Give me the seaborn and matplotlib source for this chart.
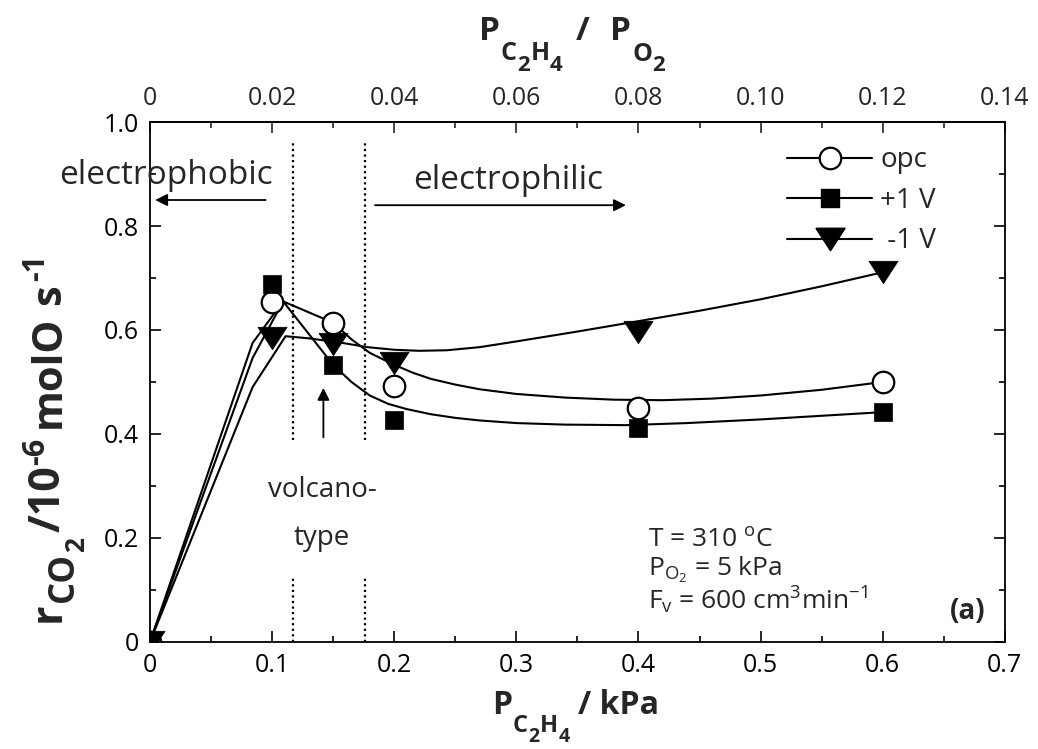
import numpy as np
import pandas as pd
import matplotlib
matplotlib.use("Agg")
import matplotlib.pyplot as plt
from matplotlib.lines import Line2D
from matplotlib.ticker import MultipleLocator, FuncFormatter
from matplotlib.transforms import IdentityTransform
import seaborn as sns

# Measured rates (x in kPa)
p_c2h4 = [0.0, 0.1, 0.15, 0.2, 0.4, 0.6]
rate_opc = [0.0, 0.654, 0.614, 0.492, 0.450, 0.500]
rate_pos = [0.0, 0.688, 0.533, 0.427, 0.412, 0.442]
rate_neg = [0.0, 0.584, 0.574, 0.536, 0.597, 0.711]

# Trend curves drawn through the data
trend_opc_x = [0.0, 0.084, 0.109, 0.15, 0.165, 0.18, 0.2, 0.215, 0.23, 0.25, 0.27, 0.3, 0.34,
               0.38, 0.42, 0.46, 0.5, 0.55, 0.6]
trend_opc_y = [0.0, 0.575, 0.655, 0.614, 0.582, 0.556, 0.533, 0.518, 0.506, 0.495, 0.486, 0.477,
               0.470, 0.466, 0.465, 0.468, 0.474, 0.485, 0.500]
trend_pos_x = [0.0, 0.084, 0.109, 0.15, 0.165, 0.18, 0.195, 0.21, 0.23, 0.25, 0.27, 0.3, 0.34,
               0.39, 0.44, 0.5, 0.55, 0.6]
trend_pos_y = [0.0, 0.546, 0.655, 0.533, 0.500, 0.474, 0.458, 0.448, 0.438, 0.431, 0.426, 0.421,
               0.418, 0.417, 0.421, 0.428, 0.435, 0.442]
trend_neg_x = [0.0, 0.084, 0.111, 0.13, 0.158, 0.178, 0.2, 0.22, 0.243, 0.27, 0.3, 0.35, 0.4,
               0.45, 0.5, 0.55, 0.6]
trend_neg_y = [0.0, 0.490, 0.588, 0.584, 0.575, 0.567, 0.562, 0.560, 0.561, 0.567, 0.578, 0.597,
               0.617, 0.637, 0.659, 0.684, 0.711]

series_names = ["opc", "+1 V", " -1 V"]
x_ticks = [0, 0.1, 0.2, 0.3, 0.4, 0.5, 0.6, 0.7]
y_ticks = [0, 0.2, 0.4, 0.6, 0.8, 1.0]
top_ticks = [0, 0.02, 0.04, 0.06, 0.08, 0.10, 0.12, 0.14]
p_o2 = 5.0
regime_bounds = [0.117, 0.176]

sns.set_theme(style="ticks")
plt.rcParams["font.family"] = ["Open Sans", "DejaVu Sans"]
plt.rcParams["mathtext.fontset"] = "custom"
plt.rcParams["mathtext.rm"] = "Open Sans"
plt.rcParams["mathtext.it"] = "Open Sans:italic"
plt.rcParams["mathtext.bf"] = "Open Sans:bold"
plt.rcParams["mathtext.sf"] = "Open Sans"

W, H = 1038, 749
fig = plt.figure(figsize=(W / 100, H / 100), dpi=100)
ax = fig.add_axes([0.1445, 0.1429, 0.8235, 0.6942])
renderer = fig.canvas.get_renderer()


def rich_label(x_px, y_px, pieces, rotation=0):
    """Lay out text pieces one after another along a baseline.

    Positions are in pixels from the top-left corner. Each piece is
    (text, size, drop_px, gap_px); drop_px > 0 lowers the piece (subscript).
    """
    pos = 0.0
    for s, size, drop, gap in pieces:
        if rotation == 0:
            tx, ty = x_px + pos, H - (y_px + drop)
        else:
            tx, ty = x_px + drop, H - y_px + pos
        t = fig.text(tx, ty, s, fontsize=size, fontweight="bold", ha="left", va="baseline",
                     rotation=rotation, rotation_mode="anchor", transform=IdentityTransform())
        bb = t.get_window_extent(renderer)
        pos += (bb.width if rotation == 0 else bb.height) + gap


# wide triangle pointing down, centred on its bounding box
tri = [(-1.0, 0.77), (1.0, 0.77), (0.0, -0.77), (-1.0, 0.77)]

lw = 1.5
for tx, ty in [(trend_opc_x, trend_opc_y), (trend_pos_x, trend_pos_y), (trend_neg_x, trend_neg_y)]:
    d = pd.DataFrame({"x": tx, "y": ty})
    sns.lineplot(data=d, x="x", y="y", sort=False, estimator=None, color="black",
                 linewidth=lw, ax=ax, zorder=2)

df = pd.DataFrame({"p": p_c2h4, "opc": rate_opc, "pos": rate_pos, "neg": rate_neg})
sns.scatterplot(data=df, x="p", y="opc", marker="o", s=15.5**2, facecolor="white",
                edgecolor="black", linewidth=1.6, ax=ax, zorder=4)
sns.scatterplot(data=df, x="p", y="pos", marker="s", s=13.5**2, color="black",
                edgecolor="black", linewidth=0.5, ax=ax, zorder=4)
sns.scatterplot(data=df, x="p", y="neg", marker=tri, s=21**2, color="black",
                edgecolor="black", linewidth=0.5, ax=ax, zorder=4)

# regime boundaries
for xb in regime_bounds:
    ax.plot([xb, xb], [0.388, 0.962], color="black", linestyle=(0, (1, 1.5)), linewidth=1.6, zorder=1)
    ax.plot([xb, xb], [0.0, 0.123], color="black", linestyle=(0, (1, 1.5)), linewidth=1.6, zorder=1)

ax.set_xlim(0, 0.7)
ax.set_ylim(0, 1.0)
ax.set_xlabel("")
ax.set_ylabel("")


def fmt(v, pos):
    if abs(v) < 1e-9:
        return "0"
    return "%.1f" % v


ax.set_xticks(x_ticks)
ax.set_yticks(y_ticks)
ax.xaxis.set_major_formatter(FuncFormatter(fmt))
ax.yaxis.set_major_formatter(FuncFormatter(fmt))
ax.xaxis.set_minor_locator(MultipleLocator(0.05))
ax.yaxis.set_minor_locator(MultipleLocator(0.1))
ax.tick_params(which="both", direction="in", top=False, right=True, width=1.2, colors="black",
               labelsize=18)
ax.tick_params(which="major", length=8)
ax.tick_params(which="minor", length=4)
ax.tick_params(axis="x", pad=8)
ax.tick_params(axis="y", pad=8)
for s in ax.spines.values():
    s.set_linewidth(1.3)
    s.set_color("black")

top = ax.secondary_xaxis("top", functions=(lambda x: x / p_o2, lambda x: x * p_o2))
top.set_xticks(top_ticks)
top.xaxis.set_major_formatter(FuncFormatter(lambda v, p: "0" if abs(v) < 1e-9 else "%.2f" % v))
top.xaxis.set_minor_locator(MultipleLocator(0.01))
top.tick_params(which="both", direction="in", width=1.2, labelsize=18, pad=8)
top.tick_params(which="major", length=8)
top.tick_params(which="minor", length=4)
top.spines["top"].set_linewidth(1.3)

# axis titles with lowered chemical subscripts
rich_label(492, 714, [("P", 23, 0, 1), ("C", 17, 18, 0), ("2", 14, 28, 1), ("H", 17, 18, 0),
                      ("4", 14, 28, 9), ("/ kPa", 23, 0, 0)])
rich_label(479, 40, [("P", 24, 0, 1), ("C", 18, 20, 0), ("2", 16, 31, 1), ("H", 18, 20, 0),
                     ("4", 16, 31, 13), ("/", 24, 0, 21), ("P", 24, 0, 1), ("O", 18, 21, 0),
                     ("2", 16, 31, 0)])
rich_label(60, 622, [("r", 31, 0, 1), ("CO", 25, 13, 0), ("2", 19, 24, 5), ("/10", 31, 0, 1),
                     ("-6", 22, -16, 9), ("molO", 30, 0, 11), ("s", 30, 0, 3), ("-1", 22, -16, 0)],
           rotation=90)

# annotations
ax.text(0.013, 0.898, "electrophobic", fontsize=24, ha="center", va="center")
ax.annotate("", xy=(0.002, 0.85), xytext=(0.097, 0.85),
            arrowprops=dict(arrowstyle="-|>", color="black", lw=1.3, mutation_scale=18))
ax.text(0.293, 0.888, "electrophilic", fontsize=24, ha="center", va="center")
ax.annotate("", xy=(0.392, 0.84), xytext=(0.182, 0.84),
            arrowprops=dict(arrowstyle="-|>", color="black", lw=1.3, mutation_scale=18))
ax.annotate("", xy=(0.142, 0.494), xytext=(0.142, 0.388),
            arrowprops=dict(arrowstyle="-|>", color="black", lw=1.3, mutation_scale=18))
ax.text(0.141, 0.246, "volcano-\ntype", fontsize=20, ha="center", va="center", linespacing=1.95)

ax.text(0.408, 0.195, r"T = 310 $^{\mathrm{o}}$C", fontsize=19, ha="left", va="center")
ax.text(0.408, 0.138, r"P$_{\mathrm{O_2}}$ = 5 kPa", fontsize=19, ha="left", va="center")
ax.text(0.408, 0.080, r"F$_{\mathrm{v}}$ = 600 cm$^{\mathrm{3}}$min$^{\mathrm{-1}}$", fontsize=19,
        ha="left", va="center")
ax.text(0.67, 0.058, "(a)", fontsize=20, fontweight="bold", ha="center", va="center")

handles = [
    Line2D([], [], color="black", lw=lw, marker="o", markersize=15.5, markerfacecolor="white",
           markeredgecolor="black", markeredgewidth=1.6),
    Line2D([], [], color="black", lw=lw, marker="s", markersize=13.5, markerfacecolor="black"),
    Line2D([], [], color="black", lw=lw, marker=tri, markersize=21, markerfacecolor="black"),
]
ax.legend(handles, series_names, loc="upper left", bbox_to_anchor=(0.716, 1.001), frameon=False,
          fontsize=20, handlelength=3.06, handletextpad=0.3, labelspacing=0.45, numpoints=1)

fig.savefig("out.png", dpi=100)
